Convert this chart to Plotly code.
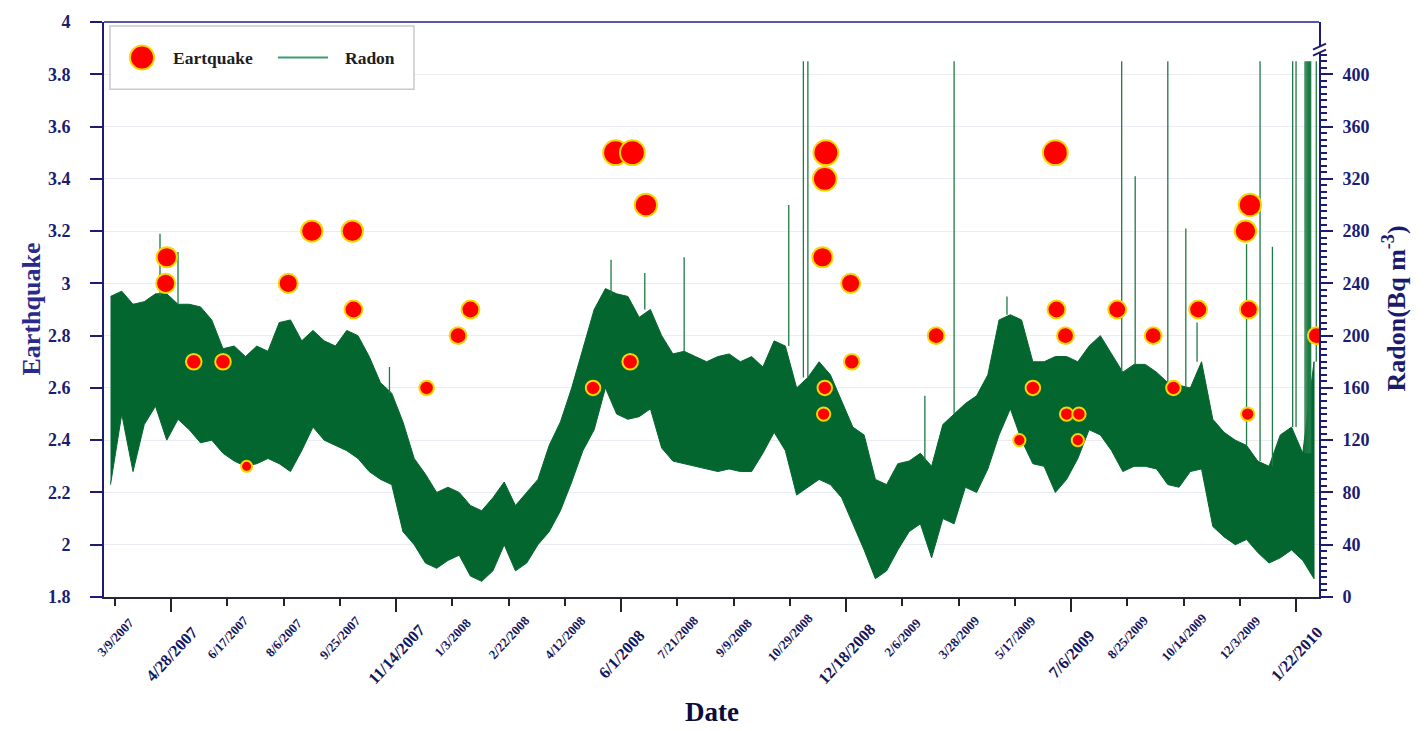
import pandas as pd
import plotly.graph_objects as go

# ---------------- data ----------------
# Radon record, summarised every 10 days: upper and lower envelope (Bq m-3)
radon_start = "2007-03-05"
radon_step = "10D"
radon_high = [230, 234, 224, 226, 232, 232, 224, 224, 222, 212,
              190, 192, 184, 192, 188, 210, 212, 196, 204, 196,
              192, 204, 200, 184, 164, 156, 134, 106, 94, 80,
              84, 80, 70, 66, 76, 88, 70, 80, 90, 116,
              134, 160, 190, 220, 236, 232, 230, 214, 220, 200,
              186, 188, 184, 180, 184, 186, 180, 184, 176, 196,
              192, 160, 168, 180, 170, 150, 130, 124, 90, 86,
              102, 104, 110, 100, 132, 140, 148, 154, 170, 212,
              216, 212, 180, 180, 184, 184, 180, 192, 200, 186,
              172, 178, 178, 172, 164, 162, 160, 180, 136, 126,
              120, 116, 104, 100, 124, 130, 110, 180]
radon_low = [86, 140, 96, 132, 146, 120, 136, 128, 118, 120,
             110, 104, 100, 102, 106, 102, 96, 112, 130, 120,
             116, 112, 106, 96, 90, 86, 50, 40, 26, 22,
             28, 32, 16, 12, 20, 40, 20, 26, 40, 50,
             66, 88, 112, 128, 160, 140, 136, 138, 144, 114,
             104, 102, 100, 98, 96, 98, 96, 96, 110, 126,
             112, 78, 84, 90, 86, 76, 56, 36, 14, 20,
             36, 50, 56, 30, 60, 56, 84, 80, 98, 124,
             144, 120, 102, 100, 80, 90, 106, 128, 124, 112,
             96, 100, 100, 98, 86, 84, 96, 98, 54, 46,
             40, 44, 34, 26, 30, 36, 28, 14]

# Isolated radon needles (date, foot, peak)
spike_dates = ['2007-04-18', '2007-05-04', '2007-11-08', '2008-05-23', '2008-06-22',
               '2008-07-27', '2008-10-28', '2008-11-10', '2008-11-14', '2009-02-26',
               '2009-03-24', '2009-05-10', '2009-08-20', '2009-09-01', '2009-09-30',
               '2009-10-16', '2009-10-26', '2009-12-09', '2009-12-21', '2010-01-01',
               '2010-01-19', '2010-01-22', '2010-01-30', '2010-01-31', '2010-02-01',
               '2010-02-02', '2010-02-03', '2010-02-04', '2010-02-09']
spike_base = [230, 224, 156, 230, 220, 188, 192, 168, 168, 104,
              140, 216, 172, 178, 164, 160, 180, 116, 104, 100,
              130, 130, 110, 110, 110, 110, 110, 110, 180]
spike_peak = [278, 264, 176, 258, 248, 260, 300, 410, 410, 154,
              410, 230, 410, 322, 410, 282, 210, 270, 410, 268,
              410, 410, 410, 410, 410, 410, 410, 410, 410]

# Earthquakes (date, magnitude)
eq_dates = ['2007-04-23', '2007-04-24', '2007-05-18', '2007-06-13', '2007-07-04',
            '2007-08-10', '2007-08-31', '2007-10-06', '2007-10-07', '2007-12-11',
            '2008-01-08', '2008-01-19', '2008-05-07', '2008-05-27', '2008-06-09',
            '2008-06-11', '2008-06-23', '2008-11-27', '2008-11-28', '2008-11-29',
            '2008-11-29', '2008-11-30', '2008-12-22', '2008-12-23', '2009-03-08',
            '2009-05-21', '2009-06-02', '2009-06-22', '2009-06-23', '2009-07-01',
            '2009-07-02', '2009-07-12', '2009-07-13', '2009-08-16', '2009-09-17',
            '2009-10-05', '2009-10-27', '2009-12-08', '2009-12-10', '2009-12-11',
            '2009-12-12', '2010-02-09']
eq_mag = [3.0, 3.1, 2.7, 2.7, 2.3, 3.0, 3.2, 3.2, 2.9, 2.6,
          2.8, 2.9, 2.6, 3.5, 2.7, 3.5, 3.3, 3.1, 2.5, 3.4,
          2.6, 3.5, 3.0, 2.7, 2.8, 2.4, 2.6, 3.5, 2.9, 2.8,
          2.5, 2.4, 2.5, 2.9, 2.8, 2.6, 2.9, 3.2, 2.5, 2.9,
          3.3, 2.8]

# Axis ticks
x_tick_labels = ['3/9/2007', '4/28/2007', '6/17/2007', '8/6/2007', '9/25/2007',
                 '11/14/2007', '1/3/2008', '2/22/2008', '4/12/2008', '6/1/2008',
                 '7/21/2008', '9/9/2008', '10/29/2008', '12/18/2008', '2/6/2009',
                 '3/28/2009', '5/17/2009', '7/6/2009', '8/25/2009', '10/14/2009',
                 '12/3/2009', '1/22/2010']
x_major_labels = ['4/28/2007', '11/14/2007', '6/1/2008', '12/18/2008', '7/6/2009', '1/22/2010']
left_ticks = [1.8, 2.0, 2.2, 2.4, 2.6, 2.8, 3.0, 3.2, 3.4, 3.6, 3.8, 4.0]
left_tick_text = ['1.8', '2', '2.2', '2.4', '2.6', '2.8', '3', '3.2', '3.4', '3.6', '3.8', '4']
right_ticks = [0, 40, 80, 120, 160, 200, 240, 280, 320, 360, 400]

# ---------------- styling ----------------
SERIF = 'Liberation Serif, Times New Roman, serif'
NAVY = '#1c1c74'
GREEN = '#03662f'
SPIKE = '#1f7a45'
W, H = 1427, 731
L, R, T, B = 104, 108, 15, 134
PW, PH = W - L - R, H - T - B


def px_x(px):
    return (px - L) / PW


def px_y(py):
    return (H - B - py) / PH


radon_dates = pd.date_range(radon_start, periods=len(radon_high), freq=radon_step)
rd = [d.strftime('%Y-%m-%d') for d in radon_dates]

tick_dt = pd.to_datetime(x_tick_labels, format='%m/%d/%Y')
tick_iso = [d.strftime('%Y-%m-%d') for d in tick_dt]
major_iso = [iso for iso, lab in zip(tick_iso, x_tick_labels) if lab in x_major_labels]
minor_iso = [iso for iso, lab in zip(tick_iso, x_tick_labels) if lab not in x_major_labels]

fig = go.Figure()

# radon band
fig.add_trace(go.Scatter(
    x=rd + rd[::-1], y=radon_high + radon_low[::-1],
    mode='lines', fill='toself', fillcolor=GREEN,
    line=dict(color=GREEN, width=1), hoverinfo='skip',
    showlegend=False, xaxis='x', yaxis='y'))

# radon needles
sx, sy = [], []
for d, b, p in zip(spike_dates, spike_base, spike_peak):
    sx += [d, d, None]
    sy += [b, p, None]
fig.add_trace(go.Scatter(x=sx, y=sy, mode='lines', line=dict(color=SPIKE, width=1.3),
                         hoverinfo='skip', showlegend=False, xaxis='x', yaxis='y'))

# earthquakes
sizes = [11 + (m - 2.3) * 11.5 for m in eq_mag]
fig.add_trace(go.Scatter(
    x=eq_dates, y=eq_mag, mode='markers', name='Eartquake',
    marker=dict(size=sizes, color='#ff0000', opacity=1,
                line=dict(color='#f5d800', width=2)),
    showlegend=False, xaxis='x', yaxis='y2'))

tickfont = dict(family=SERIF, size=18, color=NAVY, weight='bold')

fig.update_layout(
    width=W, height=H, margin=dict(l=L, r=R, t=T, b=B),
    plot_bgcolor='white', paper_bgcolor='white', showlegend=False,
    xaxis=dict(type='date', range=['2007-02-27 05:00', '2010-02-11 10:00'],
               showline=True, linecolor='#26263a', linewidth=2, mirror=False,
               showgrid=False, zeroline=False,
               tickmode='array', tickvals=major_iso, ticks='outside', ticklen=13,
               tickwidth=2, tickcolor='#222', showticklabels=False,
               minor=dict(tickmode='array', tickvals=minor_iso, ticks='outside',
                          ticklen=7, tickwidth=2, tickcolor='#222', showgrid=False)),
    yaxis=dict(side='right', range=[0, 440], tickmode='array', tickvals=right_ticks,
               ticktext=[str(v) for v in right_ticks],
               showline=True, linecolor=NAVY, linewidth=2,
               ticks='outside', ticklen=12, tickwidth=2, tickcolor=NAVY,
               showgrid=True, gridcolor='#ebebf3', gridwidth=1, zeroline=False,
               tickfont=tickfont, ticklabelstandoff=6,
               minor=dict(tickmode='array',
                          tickvals=[v for v in range(0, 416, 5) if v % 40],
                          ticks='outside', ticklen=6, tickwidth=1.5,
                          tickcolor=NAVY, showgrid=False)),
    yaxis2=dict(overlaying='y', side='left', range=[1.8, 4.0], tickmode='array',
                tickvals=left_ticks, ticktext=left_tick_text,
                showline=True, linecolor=NAVY, linewidth=2,
                ticks='outside', ticklen=12, tickwidth=2, tickcolor=NAVY,
                showgrid=False, zeroline=False, tickfont=tickfont,
                ticklabelstandoff=16),
)

shapes = []
# top frame line
shapes.append(dict(type='line', xref='paper', yref='paper', x0=0, x1=1, y0=1, y1=1,
                   line=dict(color='#5656aa', width=2)))
# axis break on the right axis
shapes.append(dict(type='rect', xref='paper', yref='paper', xsizemode='pixel', ysizemode='pixel',
                   xanchor=1, yanchor=px_y(43), x0=-3, x1=3, y0=-3, y1=3,
                   fillcolor='white', line=dict(width=0)))
for cy in (40, 46):
    shapes.append(dict(type='line', xref='paper', yref='paper', xsizemode='pixel', ysizemode='pixel',
                       xanchor=1, yanchor=px_y(cy), x0=-6, x1=7, y0=-3, y1=3,
                       line=dict(color=NAVY, width=2)))
# manual legend
shapes.append(dict(type='rect', xref='paper', yref='paper', layer='above',
                   x0=px_x(110), x1=px_x(414), y0=px_y(83), y1=px_y(19),
                   fillcolor='white', line=dict(color='#c9c9c9', width=1.5)))
shapes.append(dict(type='circle', xref='paper', yref='paper', xsizemode='pixel', ysizemode='pixel',
                   xanchor=px_x(142), yanchor=px_y(51), x0=-12, x1=12, y0=-12, y1=12,
                   fillcolor='#ff0000', line=dict(color='#f5d800', width=2)))
shapes.append(dict(type='line', xref='paper', yref='paper',
                   x0=px_x(278), x1=px_x(328), y0=px_y(51), y1=px_y(51),
                   line=dict(color='#3d9c6b', width=2)))

annotations = []
legend_font = dict(family=SERIF, size=17.5, color='#1e1e1e', weight='bold')
annotations.append(dict(text='Eartquake', xref='paper', yref='paper', x=px_x(171), y=px_y(51),
                        xanchor='left', yanchor='middle', showarrow=False, font=legend_font))
annotations.append(dict(text='Radon', xref='paper', yref='paper', x=px_x(343), y=px_y(51),
                        xanchor='left', yanchor='middle', showarrow=False, font=legend_font))

# date tick labels (centred under their ticks, rotated)
for iso, lab in zip(tick_iso, x_tick_labels):
    big = lab in x_major_labels
    annotations.append(dict(
        text=lab, xref='x', yref='paper', x=iso, y=0, yshift=-57 if big else -40,
        xanchor='center', yanchor='middle', textangle=-47, showarrow=False,
        font=dict(family=SERIF, size=16.5 if big else 13, color='#16165c', weight='bold')))

# axis titles
annotations.append(dict(text='Earthquake', xref='paper', yref='paper', x=px_x(31), y=px_y(306),
                        xanchor='center', yanchor='middle', textangle=-90, showarrow=False,
                        font=dict(family=SERIF, size=26, color='#2a2a8e', weight='bold')))
annotations.append(dict(text='Radon(Bq m<sup>-3</sup>)', xref='paper', yref='paper',
                        x=px_x(1395), y=px_y(305), xanchor='center', yanchor='middle',
                        textangle=-90, showarrow=False,
                        font=dict(family=SERIF, size=26, color='#1b1b6e', weight='bold')))
annotations.append(dict(text='Date', xref='paper', yref='paper', x=px_x(712), y=px_y(713),
                        xanchor='center', yanchor='middle', showarrow=False,
                        font=dict(family=SERIF, size=27, color='#0b0b40', weight='bold')))

fig.update_layout(shapes=shapes, annotations=annotations)
fig.write_html("out.html")
